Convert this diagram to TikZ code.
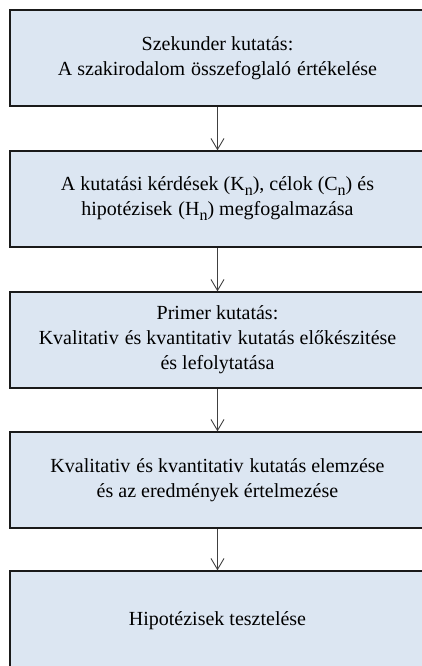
\documentclass[tikz,border=0pt]{standalone}
\usepackage{fontspec}
\setmainfont{Liberation Serif}
\usetikzlibrary{arrows.meta}
\definecolor{boxfill}{HTML}{DCE6F2}
\definecolor{boxline}{HTML}{1A1A1A}
\newcommand{\dsp}{\hspace{0.3em}}
\newcommand{\subn}{\raisebox{-5pt}{\fontsize{16}{16}\selectfont n}}
\begin{document}
\begin{tikzpicture}[x=1pt,y=-1pt,
  stagebox/.style={draw=boxline, line width=1.3pt, fill=boxfill, minimum width=415pt,
    inner sep=0pt, align=center, font=\fontsize{20}{25}\selectfont, text=black},
  flowarrow/.style={draw=black!75, line width=0.9pt, -{Straight Barb[length=11pt,width=13pt,line width=0.9pt]}}]
\useasboundingbox (0,0) rectangle (422,666);
\clip (0,0) rectangle (422,666);
\node[stagebox, minimum height=96pt] (b1) at (217.5,58)
  {Szekunder kutatás:\\A szakirodalom\dsp összefoglaló\dsp értékelése};
\node[stagebox, minimum height=96pt] (b2) at (217.5,199)
  {A kutatási kérdések (K\subn), célok (C\subn) és\\hipotézisek\dsp (H\subn) megfogalmazása};
\node[stagebox, minimum height=96pt] (b3) at (217.5,340)
  {Primer kutatás:\\Kvalitativ\dsp és kvantitativ\dsp kutatás előkészitése\\és lefolytatása};
\node[stagebox, minimum height=96pt] (b4) at (217.5,480)
  {Kvalitativ\dsp és kvantitativ\dsp kutatás elemzése\\és az eredmények értelmezése};
\node[stagebox, minimum height=100pt] (b5) at (217.5,621)
  {Hipotézisek tesztelése};
\draw[flowarrow] (b1.south) -- (b2.north);
\draw[flowarrow] (b2.south) -- (b3.north);
\draw[flowarrow] (b3.south) -- (b4.north);
\draw[flowarrow] (b4.south) -- (b5.north);
\end{tikzpicture}
\end{document}
